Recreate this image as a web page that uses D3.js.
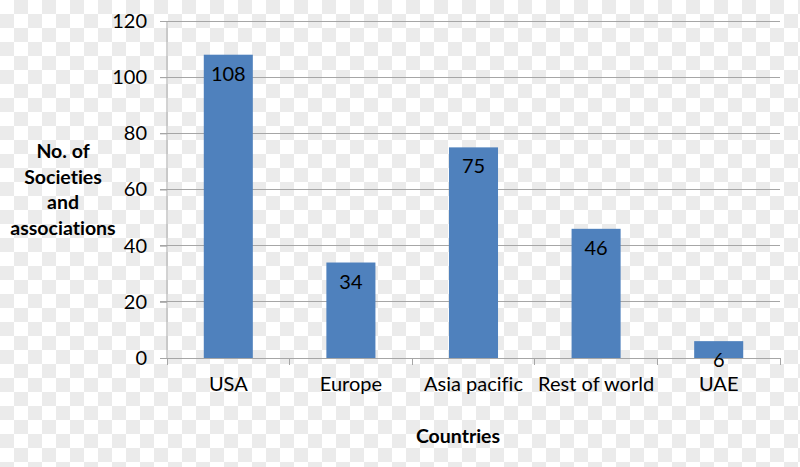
<!DOCTYPE html>
<html>
<head>
<meta charset="utf-8">
<script src="https://cdn.jsdelivr.net/npm/d3@7"></script>
<style>
  html, body { margin: 0; padding: 0; background: #fff; }
  svg { display: block; }
  text { font-family: Lato, "Open Sans", "Liberation Sans", sans-serif; fill: #000;
         font-variant-ligatures: none; font-feature-settings: "liga" 0, "clig" 0; }
</style>
</head>
<body>
<svg id="chart" width="800" height="467"></svg>
<script>
const categories = ["USA", "Europe", "Asia pacific", "Rest of world", "UAE"];
const values = [108, 34, 75, 46, 6];
const yTicks = [0, 20, 40, 60, 80, 100, 120];
const yTitleLines = ["No. of", "Societies", "and", "associations"];
const xTitle = "Countries";

const svg = d3.select("#chart");
const W = 800, H = 467;

// checkerboard background (transparency pattern in reference)
const defs = svg.append("defs");
const pat = defs.append("pattern").attr("id", "chk")
  .attr("width", 28).attr("height", 28).attr("patternUnits", "userSpaceOnUse");
pat.append("rect").attr("width", 28).attr("height", 28).attr("fill", "#ffffff");
pat.append("rect").attr("x", 14).attr("y", 0).attr("width", 14).attr("height", 14).attr("fill", "#ebebeb");
pat.append("rect").attr("x", 0).attr("y", 14).attr("width", 14).attr("height", 14).attr("fill", "#ebebeb");
svg.append("rect").attr("width", W).attr("height", H).attr("fill", "url(#chk)");

const x0 = 167, x1 = 780, yBottom = 358, yTop = 21;
const x = d3.scaleBand().domain(categories).range([x0, x1]).paddingInner(0.6).paddingOuter(0.3);
const y = d3.scaleLinear().domain([0, 120]).range([yBottom, yTop]);
const FONT = "Lato, 'Open Sans', sans-serif";

// gridlines
svg.append("g").selectAll("line").data(yTicks.filter(d => d > 0)).join("line")
  .attr("x1", x0 - 7).attr("x2", x1)
  .attr("y1", d => y(d)).attr("y2", d => y(d))
  .attr("stroke", "#a6a6a6").attr("stroke-width", 1).attr("shape-rendering", "crispEdges");

// y axis
const yAxis = svg.append("g").attr("transform", `translate(${x0},0)`)
  .call(d3.axisLeft(y).tickValues(yTicks).tickSize(7).tickPadding(13).tickFormat(d3.format("d")));
yAxis.select(".domain").attr("stroke", "#a6a6a6").attr("d", `M0,${yTop}V${yBottom}`);
yAxis.selectAll(".tick line").attr("stroke", "#a6a6a6");
yAxis.selectAll("text").attr("font-size", 20).attr("fill", "#000").style("font-family", FONT);

// bars
svg.append("g").selectAll("rect").data(values).join("rect")
  .attr("x", (d, i) => x(categories[i]))
  .attr("width", x.bandwidth())
  .attr("y", d => y(d))
  .attr("height", d => y(0) - y(d))
  .attr("fill", "#4f81bd");

// x axis
const xAxis = svg.append("g").attr("transform", `translate(0,${yBottom})`)
  .call(d3.axisBottom(x).tickSize(0).tickPadding(19));
xAxis.select(".domain").remove();
xAxis.append("line").attr("x1", x0 - 7).attr("x2", x1).attr("y1", 0).attr("y2", 0)
  .attr("stroke", "#a6a6a6").attr("shape-rendering", "crispEdges");
const step = x.step();
xAxis.selectAll(".bnd").data(d3.range(categories.length + 1)).join("line")
  .attr("class", "bnd")
  .attr("x1", i => x0 + i * step).attr("x2", i => x0 + i * step)
  .attr("y1", 0).attr("y2", 7)
  .attr("stroke", "#a6a6a6").attr("shape-rendering", "crispEdges");
xAxis.selectAll(".tick text").attr("font-size", 20).attr("fill", "#000").style("font-family", FONT);

// value labels
svg.append("g").selectAll("text").data(values).join("text")
  .attr("x", (d, i) => x(categories[i]) + x.bandwidth() / 2)
  .attr("y", d => y(d) + 26)
  .attr("text-anchor", "middle")
  .attr("font-size", 20)
  .text(d => d);

// y title
const yt = svg.append("text").attr("text-anchor", "middle").attr("font-weight", "bold").attr("font-size", 19.5);
yTitleLines.forEach((t, i) => {
  yt.append("tspan").attr("x", 63).attr("y", 158 + i * 25.5).text(t);
});

// x title
svg.append("text").attr("x", 458).attr("y", 443).attr("text-anchor", "middle")
  .attr("font-weight", "bold").attr("font-size", 19.5).text(xTitle);
</script>
</body>
</html>
